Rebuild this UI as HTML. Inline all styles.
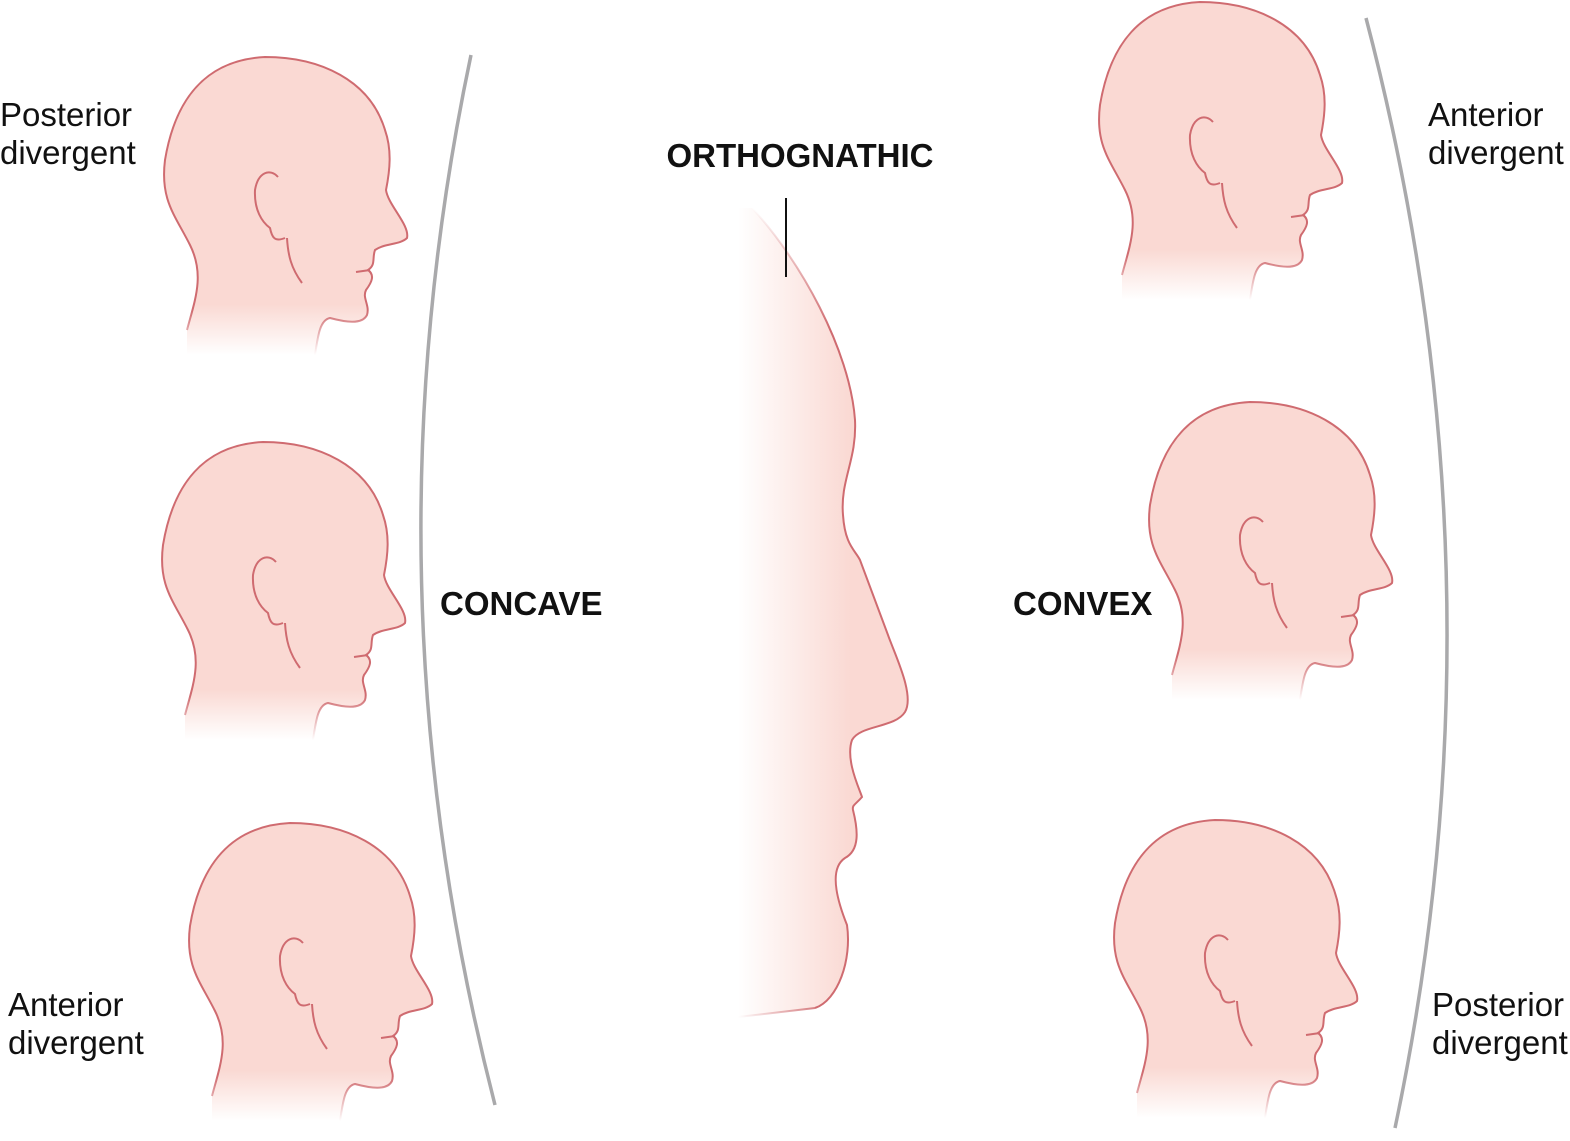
<!DOCTYPE html>
<html><head><meta charset="utf-8"><style>
html,body{margin:0;padding:0;background:#fff;}
svg{display:block;}
text{font-family:"Liberation Sans",Arial,sans-serif;fill:#111;}
</style></head><body>
<svg width="1570" height="1141" viewBox="0 0 1570 1141" xmlns="http://www.w3.org/2000/svg">
<defs>
<linearGradient id="hf" x1="0" y1="0" x2="0" y2="1">
<stop offset="0" stop-color="#fad9d3"/><stop offset="0.83" stop-color="#fad9d3"/><stop offset="1" stop-color="#fad9d3" stop-opacity="0"/>
</linearGradient>
<linearGradient id="hs" x1="0" y1="0" x2="0" y2="1">
<stop offset="0" stop-color="#cf6b70"/><stop offset="0.85" stop-color="#cf6b70"/><stop offset="1" stop-color="#cf6b70" stop-opacity="0"/>
</linearGradient>
<linearGradient id="cf" gradientUnits="userSpaceOnUse" x1="738" y1="0" x2="870" y2="0">
<stop offset="0" stop-color="#fad9d3" stop-opacity="0"/><stop offset="0.85" stop-color="#fad9d3"/><stop offset="1" stop-color="#fad9d3"/>
</linearGradient>
<linearGradient id="cs" gradientUnits="userSpaceOnUse" x1="0" y1="208" x2="0" y2="330">
<stop offset="0" stop-color="#cf6b70" stop-opacity="0"/><stop offset="1" stop-color="#cf6b70"/>
</linearGradient>
<linearGradient id="cb" gradientUnits="userSpaceOnUse" x1="738" y1="0" x2="830" y2="0">
<stop offset="0" stop-color="#cf6b70" stop-opacity="0"/><stop offset="1" stop-color="#cf6b70"/>
</linearGradient>
<g id="head">
<path d="M187,330 C195,300 205,275 190,245 C175,215 160,200 165,160 C175,100 205,60 265,57 C320,57 370,80 385,130 C392,150 390,170 386,190 C388,205 410,225 407,238 C400,245 385,243 375,250 C372,258 376,265 368,270 C375,275 372,282 366,290 C362,298 370,305 367,315 C362,325 345,322 330,318 C320,320 318,335 315,355 L187,355 Z" fill="url(#hf)" stroke="none"/>
<path d="M187,330 C195,300 205,275 190,245 C175,215 160,200 165,160 C175,100 205,60 265,57 C320,57 370,80 385,130 C392,150 390,170 386,190 C388,205 410,225 407,238 C400,245 385,243 375,250 C372,258 376,265 368,270 C375,275 372,282 366,290 C362,298 370,305 367,315 C362,325 345,322 330,318 C320,320 318,335 315,355" fill="none" stroke="url(#hs)" stroke-width="2"/>
<path d="M278,177 C270,168 258,172 255,190 C254,210 262,222 270,228 C272,238 275,242 285,238 M287,238 C288,255 291,268 302,283 M356,272 L370,270" fill="none" stroke="#cf6b70" stroke-width="2"/>
</g>
</defs>
<use href="#head"/>
<use href="#head" transform="translate(-2,385)"/>
<use href="#head" transform="translate(25,766)"/>
<use href="#head" transform="translate(935,-55)"/>
<use href="#head" transform="translate(985,345)"/>
<use href="#head" transform="translate(950,763)"/>

<path d="M471,55 Q360,580 495,1105" fill="none" stroke="#a9a9ab" stroke-width="3.5"/>
<path d="M1366,18 Q1512,575 1395,1128" fill="none" stroke="#a9a9ab" stroke-width="3.5"/>

<path d="M752,208 C800,260 850,350 855,420 C857,460 840,480 843,515 C845,545 855,550 860,560 L888,635 C895,655 915,695 905,712 C895,728 860,725 852,740 C845,760 860,790 862,797 C855,805 852,805 853,810 C858,830 860,850 845,858 C830,868 835,895 847,925 C852,960 838,1000 815,1008 L738,1017 L738,208 Z" fill="url(#cf)"/>
<path d="M752,208 C800,260 850,350 855,420 C857,460 840,480 843,515 C845,545 855,550 860,560 L888,635 C895,655 915,695 905,712 C895,728 860,725 852,740 C845,760 860,790 862,797 C855,805 852,805 853,810 C858,830 860,850 845,858 C830,868 835,895 847,925 C852,960 838,1000 815,1008" fill="none" stroke="url(#cs)" stroke-width="2"/>
<path d="M815,1008 L738,1017" fill="none" stroke="url(#cb)" stroke-width="2"/>
<line x1="786" y1="198" x2="786" y2="277" stroke="#111" stroke-width="2"/>

<text x="800" y="167" font-size="33" font-weight="bold" text-anchor="middle">ORTHOGNATHIC</text>
<text x="440" y="615" font-size="33" font-weight="bold">CONCAVE</text>
<text x="1013" y="615" font-size="33" font-weight="bold">CONVEX</text>
<text font-size="33"><tspan x="0" y="126">Posterior</tspan><tspan x="0" y="164">divergent</tspan></text>
<text font-size="33"><tspan x="8" y="1016">Anterior</tspan><tspan x="8" y="1054">divergent</tspan></text>
<text font-size="33"><tspan x="1428" y="126">Anterior</tspan><tspan x="1428" y="164">divergent</tspan></text>
<text font-size="33"><tspan x="1432" y="1016">Posterior</tspan><tspan x="1432" y="1054">divergent</tspan></text>
</svg>
</body></html>
